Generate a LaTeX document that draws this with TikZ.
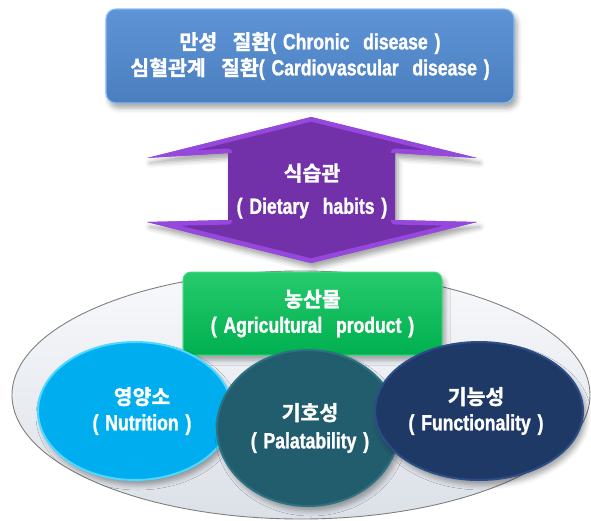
\documentclass[tikz,border=0pt]{standalone}
\usepackage{fontspec}
\setmainfont{Liberation Sans}[UprightFont={* Bold}, FakeStretch=0.8, FakeBold=1.2, WordSpace=1.4]
\newfontfamily\hangulfont{Noto Sans CJK KR Bold}[FakeBold=1.6, WordSpace=3.3]
\newcommand{\hangul}[1]{{\hangulfont\fontsize{20.5}{26}\selectfont #1}}
\newcommand{\wgap}{\ \ }
\usetikzlibrary{shapes.geometric,shadows.blur}

\definecolor{boxblue}{HTML}{4A7EBF}
\definecolor{boxbluetop}{HTML}{5E94D6}
\definecolor{boxblueedge}{HTML}{86BBF2}
\definecolor{habitpurple}{HTML}{7231A8}
\definecolor{habitedge}{HTML}{9C4CE8}
\definecolor{cropgreen}{HTML}{00B050}
\definecolor{cropedge}{HTML}{3FDC7E}
\definecolor{platefill}{HTML}{E6EBF3}
\definecolor{plateline}{HTML}{7F7F7F}
\definecolor{nutricyan}{HTML}{00AEEF}
\definecolor{nutriedge}{HTML}{4ED8FF}
\definecolor{palateal}{HTML}{215D6D}
\definecolor{palaedge}{HTML}{2E7282}
\definecolor{funcnavy}{HTML}{1F3966}
\definecolor{funcedge}{HTML}{2C4E88}

\tikzset{
  softshadow/.style={blur shadow={shadow xshift=3pt, shadow yshift=-5pt,
      shadow blur radius=5pt, shadow opacity=35}},
  label/.style={text=white, font=\fontsize{22}{26}\selectfont,
      align=center, inner sep=0pt},
  topbox/.style={rounded corners=10pt, minimum width=408pt, minimum height=94pt,
      top color=boxbluetop, bottom color=boxblue, draw=boxblueedge,
      line width=1.2pt, softshadow},
  cropbox/.style={rounded corners=8pt, minimum width=259pt, minimum height=83pt,
      top color=cropedge!60!cropgreen, bottom color=cropgreen, draw=cropedge,
      line width=1pt, softshadow},
  plate/.style={ellipse, minimum width=578pt, minimum height=248pt,
      top color=white!70!platefill, bottom color=platefill!90!gray,
      draw=plateline, line width=0.9pt},
  blob/.style={ellipse, inner sep=0pt, line width=2pt, softshadow},
}

\begin{document}
\begin{tikzpicture}[x=1pt, y=-1pt]
  \useasboundingbox (0,0) rectangle (591,520);

  % chronic disease box
  \node[topbox, label] (chronic) at (310,56)
    {\hangul{만성 질환}( Chronic\wgap disease )\\
     \hangul{심혈관계 질환}( Cardiovascular\wgap disease )};

  % dietary habits double arrow
  \coordinate (a1)  at (311,117);
  \coordinate (a2)  at (477,158);
  \coordinate (a3)  at (395,153);
  \coordinate (a4)  at (395,220);
  \coordinate (a5)  at (477,222);
  \coordinate (a6)  at (311,263);
  \coordinate (a7)  at (147,222);
  \coordinate (a8)  at (228,220);
  \coordinate (a9)  at (228,153);
  \coordinate (a10) at (147,158);
  \fill[habitpurple, softshadow]
    (a1) -- (a2) -- (a3) -- (a4) -- (a5) -- (a6) -- (a7) -- (a8) -- (a9) -- (a10) -- cycle;
  \begin{scope}
    \clip (a1) -- (a2) -- (a3) -- (a4) -- (a5) -- (a6) -- (a7) -- (a8) -- (a9) -- (a10) -- cycle;
    \draw[habitedge, line width=9pt, line join=round, opacity=0.85]
      (a1) -- (a2) -- (a3) -- (a4) -- (a5) -- (a6) -- (a7) -- (a8) -- (a9) -- (a10) -- cycle;
    \fill[habitpurple] (a9) rectangle (a4);
  \end{scope}
  \node[label] (habits) at (312,191)
    {\hangul{식습관}\\[7pt]( Dietary\wgap habits )};

  % agricultural product plate
  \node[plate] (plate) at (301,395) {};
  \node[cropbox, label] (crop) at (312.5,313.5)
    {\hangul{농산물}\\( Agricultural\wgap product )};

  % three qualities
  \node[blob, minimum width=194pt, minimum height=138pt,
        fill=nutricyan, draw=nutriedge] (nutri) at (135,411) {};
  \node[blob, minimum width=182pt, minimum height=156pt,
        fill=palateal, draw=palaedge] (pala) at (308,428) {};
  \node[blob, minimum width=208pt, minimum height=138pt,
        fill=funcnavy, draw=funcedge] (func) at (479,411) {};

  \node[label] (nutritext) at (142,411)
    {\hangul{영양소}\\( Nutrition )};
  \node[label] (palatext) at (310,428)
    {\hangul{기호성}\\[2pt]( Palatability )};
  \node[label] (functext) at (476,411)
    {\hangul{기능성}\\( Functionality )};
\end{tikzpicture}
\end{document}
